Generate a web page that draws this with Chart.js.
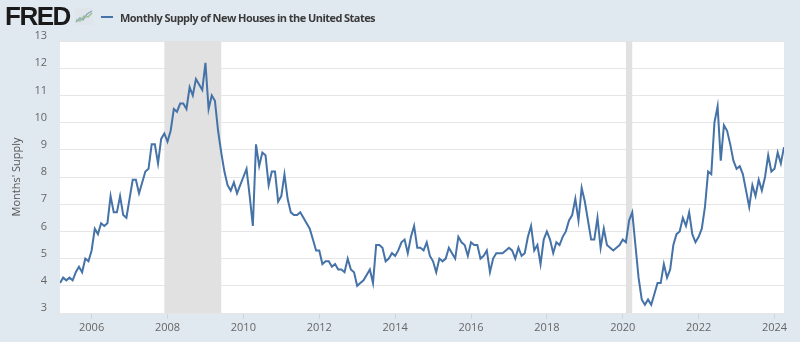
<!DOCTYPE html>
<html>
<head>
<meta charset="utf-8">
<script src="https://cdn.jsdelivr.net/npm/chart.js@4/dist/chart.umd.min.js"></script>
<style>
  html,body{margin:0;padding:0;background:#e1e9f0;}
  #wrap{position:relative;width:800px;height:342px;}
  #chart{position:absolute;left:0;top:0;}
  .logo{position:absolute;left:5px;top:1px;font-family:"Liberation Sans",Arial,sans-serif;font-weight:900;
        font-size:26px;letter-spacing:-1.5px;color:#1a1a1a;line-height:30px;}
  .icon{position:absolute;left:75px;top:8px;}
  .leg{position:absolute;left:101px;top:9px;height:16px;display:flex;align-items:center;
       font-family:"Open Sans",sans-serif;font-weight:700;font-size:11px;letter-spacing:-0.55px;color:#3a3a3a;}
  .leg i{display:inline-block;width:12px;height:2px;background:#4572a7;margin-right:7px;}
</style>
</head>
<body>
<div id="wrap">
  <canvas id="chart" width="800" height="342"></canvas>
  <div class="logo">FRED</div>
  <svg class="icon" width="18" height="17" viewBox="0 0 18 17">
    <rect x="0" y="0" width="18" height="17" fill="#dfe5ea"/>
    <polyline points="1,14 5,10 8,12 12,6 17,3" fill="none" stroke="#8aa8c8" stroke-width="1.4"/>
    <polyline points="1,12 5,13 9,8 13,9 17,5" fill="none" stroke="#9cc08a" stroke-width="1.4"/>
  </svg>
  <div class="leg"><i></i>Monthly Supply of New Houses in the United States</div>
</div>
<script>
  'use strict';

  /* ── Datos (MSACSR, mensual, desde 2005-03) ───────────── */
  var firstYear = 2005, firstMonth = 3;
  var monthlySupply = [
    4.1, 4.3, 4.2, 4.3, 4.2, 4.5, 4.7, 4.5, 5.0, 4.9,                 // 2005 mar-dic
    5.3, 6.1, 5.9, 6.3, 6.2, 6.3, 7.3, 6.7, 6.7, 7.3, 6.6, 6.5,       // 2006
    7.2, 7.9, 7.9, 7.4, 7.8, 8.2, 8.3, 9.2, 9.2, 8.5, 9.4, 9.6,       // 2007
    9.3, 9.7, 10.5, 10.4, 10.7, 10.7, 10.5, 11.3, 11.0, 11.6, 11.4, 11.2, // 2008
    12.2, 10.5, 11.0, 10.8, 9.7, 8.9, 8.2, 7.7, 7.5, 7.8, 7.4, 7.7,   // 2009
    8.0, 8.3, 7.3, 6.2, 9.2, 8.4, 8.9, 8.8, 7.7, 8.2, 8.2, 7.1,       // 2010
    7.3, 8.1, 7.2, 6.7, 6.6, 6.6, 6.7, 6.5, 6.3, 6.1, 5.7, 5.3,       // 2011
    5.3, 4.8, 4.9, 4.9, 4.7, 4.8, 4.6, 4.6, 4.5, 5.0, 4.6, 4.5,       // 2012
    4.0, 4.1, 4.2, 4.4, 4.6, 4.1, 5.5, 5.5, 5.4, 4.9, 5.0, 5.2,       // 2013
    5.1, 5.3, 5.6, 5.7, 5.2, 5.8, 6.2, 5.4, 5.4, 5.3, 5.6, 5.1,       // 2014
    4.9, 4.5, 5.0, 4.9, 5.0, 5.4, 5.2, 5.0, 5.8, 5.6, 5.5, 5.1,       // 2015
    5.6, 5.5, 5.5, 5.0, 5.1, 5.3, 4.5, 5.0, 5.2, 5.2, 5.2, 5.3,       // 2016
    5.4, 5.3, 5.0, 5.4, 5.1, 5.2, 5.8, 6.2, 5.3, 5.5, 4.8, 5.7,       // 2017
    6.0, 5.7, 5.2, 5.6, 5.5, 5.8, 6.0, 6.4, 6.6, 7.2, 6.4, 7.6,       // 2018
    7.1, 6.4, 5.7, 5.7, 6.5, 5.4, 6.1, 5.5, 5.4, 5.3, 5.4, 5.5,       // 2019
    5.7, 5.6, 6.4, 6.7, 5.5, 4.3, 3.5, 3.3, 3.5, 3.3, 3.7, 4.1,       // 2020
    4.1, 4.8, 4.3, 4.6, 5.5, 5.9, 6.0, 6.5, 6.2, 6.7, 5.9, 5.6,       // 2021
    5.8, 6.1, 6.9, 8.2, 8.1, 10.0, 10.6, 8.6, 9.9, 9.7, 9.2, 8.6,     // 2022
    8.3, 8.4, 8.1, 7.5, 6.9, 7.7, 7.3, 7.9, 7.5, 8.0, 8.8, 8.2,       // 2023
    8.3, 8.9, 8.5, 9.1                                                // 2024 ene-abr
  ];
  var yearTicks   = [2006, 2008, 2010, 2012, 2014, 2016, 2018, 2020, 2022, 2024];
  var supplyTicks = [3, 4, 5, 6, 7, 8, 9, 10, 11, 12, 13];
  var recessionStart = ['2007-12', '2020-02'];
  var recessionEnd   = ['2009-06', '2020-04'];

  /* helper: 'YYYY-MM' → año decimal */
  function ym(s){ var p=s.split('-'); return +p[0] + (+p[1]-1)/12; }

  var t0 = firstYear + (firstMonth-1)/12;
  var points = monthlySupply.map(function(v,i){ return {x: t0 + i/12, y: v}; });
  var tLast = points[points.length-1].x;

  /* ── Plugins: fondo blanco del área + recesiones ──────── */
  var plotBg = {
    id:'plotBg',
    beforeDraw:function(ch){
      var a=ch.chartArea, c=ch.ctx;
      c.save(); c.fillStyle='#fff'; c.fillRect(a.left,a.top,a.right-a.left,a.bottom-a.top); c.restore();
    }
  };
  var recessions = {
    id:'recessions',
    beforeDatasetsDraw:function(ch){
      var a=ch.chartArea, c=ch.ctx, xs=ch.scales.x;
      c.save(); c.fillStyle='#e1e1e1';
      for (var i=0;i<recessionStart.length;i++){
        var x1=xs.getPixelForValue(ym(recessionStart[i])), x2=xs.getPixelForValue(ym(recessionEnd[i]));
        c.fillRect(x1,a.top,x2-x1,a.bottom-a.top);
      }
      c.restore();
    }
  };

  Chart.defaults.font.family = '"Open Sans",sans-serif';
  Chart.defaults.animation = false;

  new Chart(document.getElementById('chart').getContext('2d'), {
    type:'line',
    data:{datasets:[{
      data:points, borderColor:'#4572a7', borderWidth:2,
      pointRadius:0, tension:0, fill:false
    }]},
    options:{
      responsive:false,
      layout:{padding:{top:41,right:16,left:0,bottom:0}},
      plugins:{legend:{display:false},tooltip:{enabled:false}},
      scales:{
        x:{
          type:'linear', min:t0, max:tLast,
          afterBuildTicks:function(s){ s.ticks = yearTicks.map(function(v){return {value:v};}); },
          afterFit:function(s){ s.height = 29; },
          grid:{drawOnChartArea:false, drawTicks:true, tickLength:6, color:'#ccd6e0'},
          border:{display:false},
          ticks:{padding:2, maxRotation:0, autoSkip:false, color:'#666', font:{size:11},
                 callback:function(v){ return String(v); }}
        },
        y:{
          min:3, max:13,
          afterBuildTicks:function(s){ s.ticks = supplyTicks.map(function(v){return {value:v};}); },
          afterFit:function(s){ s.width = 60; },
          grid:{color:'#e6e6e6', lineWidth:1, drawTicks:false},
          border:{display:false},
          ticks:{padding:13, labelOffset:-5, color:'#666', font:{size:11}},
          title:{display:true, text:"Months' Supply", color:'#555', font:{size:11}, padding:{top:10,bottom:0}}
        }
      }
    },
    plugins:[plotBg, recessions]
  });
</script>
</body>
</html>
